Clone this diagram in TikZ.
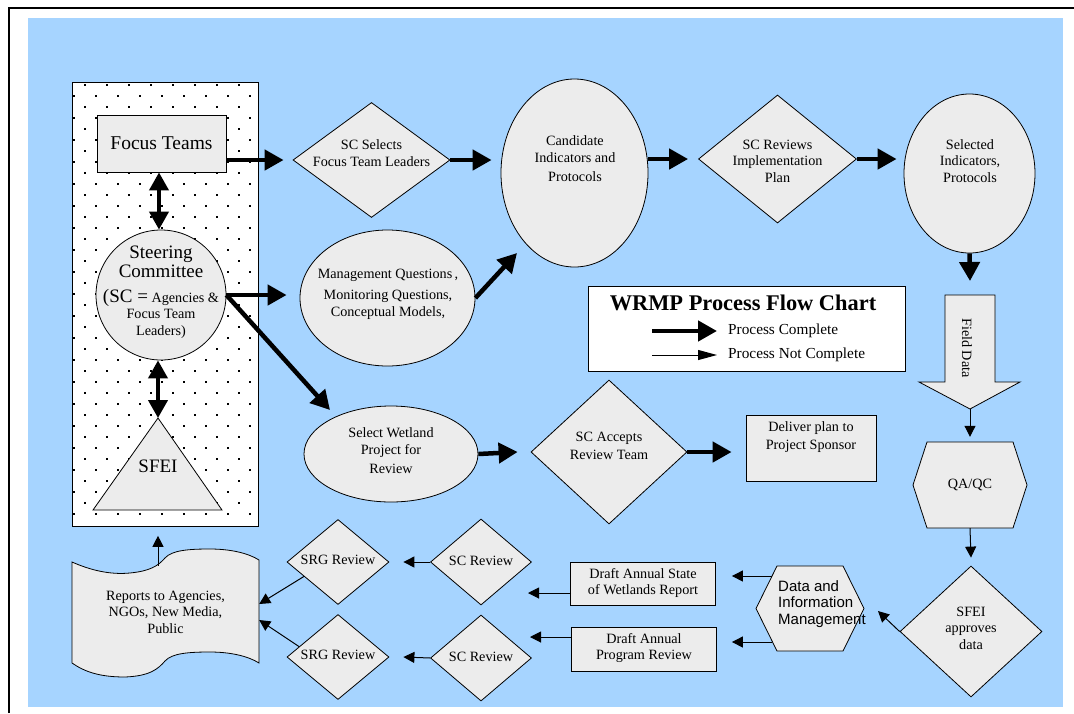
\documentclass[tikz,border=0pt]{standalone}
\usepackage{fontspec}
\setmainfont{Liberation Serif}
\newfontfamily\lsans{Liberation Sans}
\usetikzlibrary{arrows.meta,shapes.geometric}
\definecolor{bgblue}{RGB}{166,212,255}
\definecolor{boxgray}{RGB}{236,236,236}
\begin{document}
\begin{tikzpicture}[x=1pt,y=-1pt,
  shp/.style={draw=black,fill=boxgray,line width=0.8pt},
  txt/.style={align=center,inner sep=0pt,font=\fontsize{14.2}{16.5}\selectfont},
  bigtxt/.style={align=center,inner sep=0pt,font=\fontsize{19}{21}\selectfont},
  bigarrow/.style={line width=4.5pt,-{Triangle[length=19pt,width=20pt]}},
  dblarrow/.style={line width=4pt,{Triangle[length=18pt,width=19pt]}-{Triangle[length=18pt,width=19pt]}},
  thinarrow/.style={line width=1pt,-{Triangle[length=11pt,width=11pt]}},
  legthin/.style={line width=1pt,-{Triangle[length=19pt,width=10pt]}},
]
\useasboundingbox (0,0) rectangle (1074,713);
\fill[white] (0,0) rectangle (1074,713);
\fill[bgblue] (28,18) rectangle (1063,707);
\draw[line width=2pt] (8.5,713) -- (8.5,7.5) -- (1074,7.5);

% dotted panel
\node[draw=black,fill=white,line width=0.8pt,minimum width=186pt,minimum height=444pt,inner sep=0pt,anchor=north west] (panel) at (72,82) {};
\begin{scope}
\clip (72,82) rectangle (258,526);
\foreach \j in {0,...,39} {\foreach \i in {0,...,8} {\fill ({73+11*mod(\j+1,2)+22*\i},{84+11*\j}) rectangle ++(2.4,2.4);}}
\end{scope}
\draw[line width=0.8pt] (panel.north west) rectangle (panel.south east);

% left column
\node[shp,minimum width=129pt,minimum height=57pt,inner sep=0pt,font=\fontsize{19.5}{22}\selectfont] (focus) at (161.5,143.5) {Focus Teams};
\node[shp,circle,minimum size=130pt,inner sep=0pt] (sc) at (161,295) {};
\node[align=center,inner sep=0pt,font=\fontsize{14.2}{16.5}\selectfont] (sctxt) at (161,292) {{\fontsize{19}{21}\selectfont Steering}\\[2pt]{\fontsize{19}{21}\selectfont Committee}\\[8pt]{\fontsize{19}{21}\selectfont (SC =} Agencies \&\\Focus Team\\Leaders)};
\draw[shp] (158,418) -- (222,510) -- (93,510) -- cycle;
\coordinate (sfeitop) at (158,418);
\node[bigtxt] (sfei) at (158,466) {SFEI};

% top row
\node[shp,diamond,minimum width=157pt,minimum height=115pt,inner sep=0pt] (sel) at (371.5,160) {};
\node[txt] (selt) at (371.5,153) {SC Selects\\Focus Team Leaders};
\node[shp,ellipse,minimum width=147pt,minimum height=188pt,inner sep=0pt] (cand) at (574.5,173) {};
\node[txt] (candt) at (575,159) {Candidate\\Indicators and\\[3pt]Protocols};
\node[shp,diamond,minimum width=158pt,minimum height=128pt,inner sep=0pt] (rev) at (777.5,159) {};
\node[txt] (revt) at (777.5,161) {SC Reviews\\Implementation\\Plan};
\node[shp,ellipse,minimum width=131pt,minimum height=159pt,inner sep=0pt] (seli) at (969.5,173.5) {};
\node[txt] (selit) at (970,161) {Selected\\Indicators,\\Protocols};

% middle
\node[shp,ellipse,minimum width=175pt,minimum height=136pt,inner sep=0pt] (mgmt) at (387.5,298) {};
\node[txt] (mgmtt) at (388,294) {Management Questions\,,\\[5pt]Monitoring Questions,\\Conceptual Models,};
\coordinate (candin) at (517,253);

% legend
\node[draw=black,fill=white,line width=0.8pt,minimum width=317pt,minimum height=85pt,inner sep=0pt] (leg) at (746.5,328.5) {};
\node[inner sep=0pt,font=\fontsize{22.4}{25}\selectfont\bfseries] (legt) at (743,303) {WRMP Process Flow Chart};
\coordinate (l1a) at (652,331); \coordinate (l1b) at (717,331);
\coordinate (l2a) at (652,355); \coordinate (l2b) at (717,355);
\node[inner sep=0pt,anchor=west,font=\fontsize{15.3}{17}\selectfont] (leg1) at (728,331) {Process Complete};
\node[inner sep=0pt,anchor=west,font=\fontsize{15.3}{17}\selectfont] (leg2) at (728,355) {Process Not Complete};

% field data
\draw[shp] (945,295) -- (995,295) -- (995,382) -- (1020,382) -- (970,409) -- (919,382) -- (945,382) -- cycle;
\coordinate (fdtop) at (970,295);
\coordinate (fdtip) at (970,409);
\node[txt,rotate=-90] (field) at (967,348) {Field Data};

% QA/QC
\draw[shp] (927,442) -- (1013,442) -- (1027,485) -- (1013,528) -- (927,528) -- (913,485) -- cycle;
\node[txt,minimum width=114pt,minimum height=86pt] (qa) at (970,485) {QA/QC};

% select wetland row
\node[shp,ellipse,minimum width=174pt,minimum height=96pt,inner sep=0pt] (wet) at (391,454) {};
\node[txt] (wett) at (391,451) {Select Wetland\\Project for\\[3pt]Review};
\coordinate (wetin) at (330,410);
\node[shp,diamond,minimum width=156pt,minimum height=144pt,inner sep=0pt] (acc) at (609,452) {};
\node[txt] (acct) at (609,446) {SC Accepts\\[2pt]Review Team};
\node[shp,minimum width=130pt,minimum height=66pt,inner sep=0pt] (deliv) at (811,448) {};
\node[txt] (delivt) at (811,437) {Deliver plan to\\[2pt]Project Sponsor};

% bottom right
\node[shp,diamond,minimum width=142pt,minimum height=131pt,inner sep=0pt] (sfeiap) at (971,631.5) {};
\node[txt] (sfeiapt) at (971,628) {SFEI\\approves\\data};
\coordinate (datain) at (878,611);
\draw[shp] (777,566) -- (843,566) -- (864,608.5) -- (843,651) -- (777,651) -- (756,608.5) -- cycle;
\node[inner sep=0pt,minimum width=108pt,minimum height=85pt] (data) at (810,608.5) {};
\node[inner sep=0pt,align=left,anchor=west,font=\lsans\fontsize{15}{16.5}\selectfont] (datat) at (778,604) {Data and\\Information\\Management};
\coordinate (h1) at (772,576);
\coordinate (h2) at (772,642);
\node[shp,minimum width=145pt,minimum height=43pt,inner sep=0pt] (dstate) at (643,583.5) {};
\node[txt] (dstatet) at (643,583) {Draft Annual State\\of Wetlands Report};
\node[shp,minimum width=145pt,minimum height=44pt,inner sep=0pt] (dprog) at (644,649) {};
\node[txt] (dprogt) at (644,648) {Draft Annual\\Program Review};
\coordinate (s1) at (571,593); \coordinate (s1t) at (528,593);
\coordinate (s2) at (572,637); \coordinate (s2t) at (530,637);

% bottom left
\node[shp,diamond,minimum width=101pt,minimum height=86pt,inner sep=0pt] (scr1) at (481,562) {};
\node[txt] (scr1t) at (481,561) {SC Review};
\node[shp,diamond,minimum width=101pt,minimum height=86pt,inner sep=0pt] (scr2) at (481,658) {};
\node[txt] (scr2t) at (481,657) {SC Review};
\node[shp,diamond,minimum width=102pt,minimum height=85pt,inner sep=0pt] (srg1) at (338,562) {};
\node[txt] (srg1t) at (338,560) {SRG Review};
\node[shp,diamond,minimum width=102pt,minimum height=85pt,inner sep=0pt] (srg2) at (338,657) {};
\node[txt] (srg2t) at (338,655) {SRG Review};

\draw[shp] (72,562) .. controls (90,570) and (110,575) .. (130,573) .. controls (150,571) and (158,566) .. (165,558) .. controls (172,550) and (190,549) .. (210,549) .. controls (230,549) and (248,553) .. (259,560) -- (259,663) .. controls (248,656) and (230,652) .. (210,652) .. controls (190,652) and (172,653) .. (165,661) .. controls (158,669) and (150,676) .. (125,677) .. controls (100,677) and (85,672) .. (72,663) -- cycle;
\node[txt,minimum width=187pt,minimum height=100pt] (rep) at (165.5,612) {Reports to Agencies,\\NGOs, New Media,\\Public};
\coordinate (reptop) at (158,566);

% ---- connectors ----
\draw[dblarrow] (focus.south -| 159,0) -- (sc.north -| 159,0);
\draw[dblarrow] (sc.south -| 158,0) -- (sfeitop);
\draw[bigarrow] (focus.east |- sel.west) -- ([xshift=-9pt]sel.west);
\draw[bigarrow] (sel.east) -- ([xshift=-9pt]cand.west |- sel.east);
\draw[bigarrow] (cand.east |- rev.west) -- ([xshift=-10pt]rev.west);
\draw[bigarrow] (rev.east) -- ([xshift=-7pt]seli.west |- rev.east);
\draw[bigarrow] (seli.south) -- ([yshift=14pt]fdtop);
\draw[bigarrow] (sc.east) -- ([xshift=-13pt]mgmt.west |- sc.east);
\draw[bigarrow] (sc.east) -- (wetin);
\draw[bigarrow] (mgmt.east) -- (candin);
\draw[bigarrow] (wet.east) -- ([xshift=-13pt]acc.west);
\draw[bigarrow] (acc.east) -- ([xshift=-14pt]deliv.west |- acc.east);
\draw[bigarrow] (l1a) -- (l1b);
\draw[legthin] (l2a) -- (l2b);
\draw[thinarrow] (fdtip) -- ([yshift=5pt]qa.north);
\draw[thinarrow] (qa.south) -- ([yshift=8pt]sfeiap.north);
\draw[thinarrow] (sfeiap.west) -- (datain);
\draw[thinarrow] (h1) -- ([xshift=16pt]dstate.east |- h1);
\draw[thinarrow] (h2) -- ([xshift=15pt]dprog.east |- h2);
\draw[thinarrow] (s1) -- (s1t);
\draw[thinarrow] (s2) -- (s2t);
\draw[thinarrow] (scr1.west) -- ([xshift=14pt]srg1.east);
\draw[thinarrow] (scr2.west) -- ([xshift=14pt]srg2.east);
\draw[thinarrow] (srg1.203) -- ([yshift=8pt]rep.east);
\draw[thinarrow] (srg2.165) -- ([yshift=-8pt]rep.east);
\draw[thinarrow] (reptop) -- ([yshift=-9pt]panel.south -| reptop);
\end{tikzpicture}
\end{document}
